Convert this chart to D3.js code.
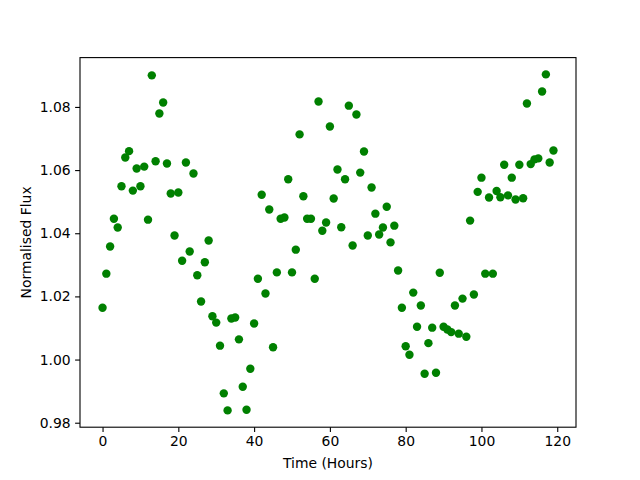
<!DOCTYPE html>
<html>
<head>
<meta charset="utf-8">
<script src="https://cdn.jsdelivr.net/npm/d3@7"></script>
<style>
  body { margin: 0; background: #fff; }
  text { font-family: "DejaVu Sans", sans-serif; }
</style>
</head>
<body>
<div id="chart"></div>
<script>
// Flux readings, one per hour starting at 0
const flux = [
  1.0164, 1.0272, 1.0358, 1.0446, 1.0418, 1.0549, 1.0640, 1.0660, 1.0535, 1.0605,
  1.0549, 1.0611, 1.0443, 1.0900, 1.0628, 1.0779, 1.0814, 1.0621, 1.0526, 1.0393,
  1.0529, 1.0313, 1.0624, 1.0342, 1.0589, 1.0267, 1.0184, 1.0308, 1.0377, 1.0137,
  1.0117, 1.0044, 0.9893, 0.9839, 1.0130, 1.0133, 1.0064, 0.9914, 0.9841, 0.9971,
  1.0114, 1.0256, 1.0522, 1.0209, 1.0475, 1.0039, 1.0276, 1.0446, 1.0450, 1.0571,
  1.0276, 1.0348, 1.0713, 1.0517, 1.0446, 1.0446, 1.0256, 1.0817, 1.0408, 1.0434,
  1.0738, 1.0510, 1.0602, 1.0419, 1.0571, 1.0804, 1.0361, 1.0776, 1.0592, 1.0659,
  1.0393, 1.0545, 1.0462, 1.0396, 1.0418, 1.0484, 1.0371, 1.0424, 1.0282, 1.0164,
  1.0042, 1.0015, 1.0212, 1.0104, 1.0171, 0.9955, 1.0052, 1.0101, 0.9958, 1.0275,
  1.0104, 1.0095, 1.0087, 1.0171, 1.0082, 1.0193, 1.0072, 1.0440, 1.0206, 1.0531,
  1.0576, 1.0272, 1.0513, 1.0272, 1.0534, 1.0514, 1.0617, 1.0520, 1.0576, 1.0507,
  1.0617, 1.0511, 1.0811, 1.0619, 1.0634, 1.0637, 1.0849, 1.0903, 1.0624, 1.0662
];
const hours = flux.map((_, i) => i);
const xTicks = [0, 20, 40, 60, 80, 100, 120];
const yTicks = [0.98, 1.00, 1.02, 1.04, 1.06, 1.08];

const points = hours.map((h, i) => ({ t: h, f: flux[i] }));

const W = 640, H = 480;
const margin = { top: 57.6, right: 64, bottom: 52.8, left: 80 };
const width = W - margin.left - margin.right;
const height = H - margin.top - margin.bottom;

// matplotlib-like 5% padding on both axes
function padded(ext) {
  const p = (ext[1] - ext[0]) * 0.05;
  return [ext[0] - p, ext[1] + p];
}

const x = d3.scaleLinear().domain(padded(d3.extent(hours))).range([0, width]);
const y = d3.scaleLinear().domain(padded(d3.extent(flux))).range([height, 0]);

const svg = d3.select("#chart").append("svg")
  .attr("width", W)
  .attr("height", H);

svg.append("rect").attr("width", W).attr("height", H).attr("fill", "white");

const g = svg.append("g")
  .attr("transform", `translate(${margin.left},${margin.top})`);

g.selectAll("circle")
  .data(points)
  .join("circle")
  .attr("cx", d => x(d.t))
  .attr("cy", d => y(d.f))
  .attr("r", 4.2)
  .attr("fill", "#008000");

const xAxis = g.append("g")
  .attr("transform", `translate(0,${height})`)
  .call(d3.axisBottom(x).tickValues(xTicks).tickFormat(d3.format("d")).tickSize(4.9).tickPadding(4.5));

const yAxis = g.append("g")
  .call(d3.axisLeft(y).tickValues(yTicks).tickFormat(d3.format(".2f")).tickSize(4.9).tickPadding(4.5));

[xAxis, yAxis].forEach(a => {
  a.select(".domain").remove();
  a.selectAll("line").attr("stroke", "#000").attr("stroke-width", 1.1);
  a.selectAll("text").attr("font-size", "13.9px").attr("fill", "#000")
    .attr("font-family", "DejaVu Sans, sans-serif");
});

// frame
g.append("rect")
  .attr("width", width)
  .attr("height", height)
  .attr("fill", "none")
  .attr("stroke", "#000")
  .attr("stroke-width", 1.1);

svg.append("text")
  .attr("x", margin.left + width / 2)
  .attr("y", 468)
  .attr("text-anchor", "middle")
  .attr("font-size", "13.9px")
  .text("Time (Hours)");

svg.append("text")
  .attr("transform", `translate(31,${margin.top + height / 2}) rotate(-90)`)
  .attr("text-anchor", "middle")
  .attr("font-size", "13.9px")
  .text("Normalised Flux");
</script>
</body>
</html>
